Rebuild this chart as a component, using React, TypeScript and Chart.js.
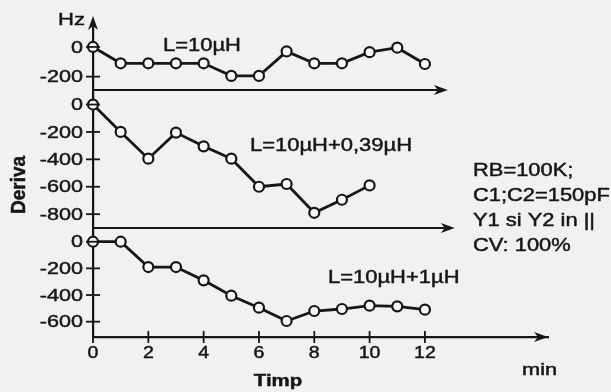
import React, { useEffect, useRef } from 'react';
import { Chart, registerables } from 'chart.js';

Chart.register(...registerables);

// ---- data ----
const MINUTES = [0, 1, 2, 3, 4, 5, 6, 7, 8, 9, 10, 11, 12];
const DRIFT_L10 = [0, -110, -110, -110, -110, -195, -195, -30, -110, -110, -35, -5, -115];
const DRIFT_L10_039 = [0, -200, -395, -205, -305, -395, -600, -580, -790, -695, -590];
const DRIFT_L10_1 = [0, 0, -190, -190, -290, -405, -495, -595, -520, -505, -480, -485, -510];

const X_TICKS = [0, 2, 4, 6, 8, 10, 12];
const Y_TICKS_A = [0, -200];
const Y_TICKS_B = [0, -200, -400, -600, -800];
const Y_TICKS_C = [0, -200, -400, -600];

const SERIES_LABELS = ['L=10µH', 'L=10µH+0,39µH', 'L=10µH+1µH'];
const NOTE_LINES = ['RB=100K;', 'C1;C2=150pF', 'Y1 si Y2 in ||', 'CV: 100%'];
const Y_UNIT = 'Hz';
const Y_TITLE = 'Deriva';
const X_TITLE = 'Timp';
const X_UNIT = 'min';

// ---- styling / layout ----
const INK = '#161616';
const BG = '#f1f1ef';
const FONT = '"Liberation Sans", Arial, sans-serif';
const X_MAX = 16.45;
const ARROW_END_A = 12.83;
const ARROW_END_B = 13.08;

function txt(ctx: CanvasRenderingContext2D, s: string, x: number, y: number, o: any) {
  ctx.save();
  ctx.font = `${o.bold ? 'bold ' : ''}${o.size}px ${FONT}`;
  ctx.fillStyle = INK;
  ctx.strokeStyle = INK;
  ctx.lineWidth = 0.45;
  ctx.textAlign = o.align || 'left';
  ctx.textBaseline = o.baseline || 'alphabetic';
  ctx.translate(x, y);
  if (o.rot) ctx.rotate(o.rot);
  ctx.scale(o.sx ?? 1.22, o.sy ?? 1);
  ctx.fillText(s, 0, 0);
  ctx.strokeText(s, 0, 0);
  ctx.restore();
}

function arrowHead(ctx: CanvasRenderingContext2D, x: number, y: number, dir: 'right' | 'up') {
  ctx.save();
  ctx.fillStyle = INK;
  ctx.beginPath();
  if (dir === 'right') {
    ctx.moveTo(x, y);
    ctx.lineTo(x - 14, y - 5);
    ctx.lineTo(x - 10, y);
    ctx.lineTo(x - 14, y + 5);
  } else {
    ctx.moveTo(x, y);
    ctx.lineTo(x - 5, y + 14);
    ctx.lineTo(x, y + 10);
    ctx.lineTo(x + 5, y + 14);
  }
  ctx.closePath();
  ctx.fill();
  ctx.restore();
}

const decorPlugin = {
  id: 'decor',
  beforeDraw(chart: any) {
    const { ctx, width, height } = chart;
    ctx.save();
    ctx.fillStyle = BG;
    ctx.fillRect(0, 0, width, height);
    ctx.restore();
  },
  afterDraw(chart: any) {
    const { ctx, chartArea } = chart;
    const xs = chart.scales.x;
    const left = chartArea.left;
    ctx.save();
    ctx.strokeStyle = INK;
    ctx.lineCap = 'butt';

    // y tick marks + labels
    for (const id of ['yA', 'yB', 'yC']) {
      const s = chart.scales[id];
      for (const t of s.ticks) {
        const y = s.getPixelForValue(t.value);
        ctx.lineWidth = 1.8;
        ctx.beginPath();
        ctx.moveTo(left - 7, y);
        ctx.lineTo(left + 7, y);
        ctx.stroke();
        txt(ctx, String(t.value), left - 10, y + 1, { size: 17, align: 'right', baseline: 'middle', sx: 1.27 });
      }
    }
    // x tick marks + labels
    const xb = xs.top;
    for (const t of xs.ticks) {
      if (t.value > 12) continue;
      const x = xs.getPixelForValue(t.value);
      ctx.lineWidth = 1.8;
      ctx.beginPath();
      ctx.moveTo(x, xb - 6);
      ctx.lineTo(x, xb + 6);
      ctx.stroke();
      txt(ctx, String(t.value), x, xb + 21, { size: 17, align: 'center', sx: 1.15 });
    }

    // panel baselines with arrows
    ctx.lineWidth = 2;
    const yA = chart.scales.yA.bottom;
    const xA = xs.getPixelForValue(ARROW_END_A);
    ctx.beginPath();
    ctx.moveTo(left, yA);
    ctx.lineTo(xA - 10, yA);
    ctx.stroke();
    arrowHead(ctx, xA, yA, 'right');

    const yB = chart.scales.yB.bottom;
    const xB = xs.getPixelForValue(ARROW_END_B);
    ctx.beginPath();
    ctx.moveTo(left, yB);
    ctx.lineTo(xB - 10, yB);
    ctx.stroke();
    arrowHead(ctx, xB, yB, 'right');

    // main x axis arrow
    arrowHead(ctx, chartArea.right, xb, 'right');
    // y axis arrow
    ctx.beginPath();
    ctx.moveTo(left, chartArea.top);
    ctx.lineTo(left, chartArea.top - 3);
    ctx.stroke();
    arrowHead(ctx, left, chartArea.top - 6, 'up');

    // texts
    txt(ctx, Y_UNIT, 58, 25, { size: 17, sx: 1.3 });
    txt(ctx, SERIES_LABELS[0], 163, 51, { size: 18 });
    txt(ctx, SERIES_LABELS[1], 250, 151, { size: 18 });
    txt(ctx, SERIES_LABELS[2], 328, 283, { size: 18 });
    NOTE_LINES.forEach((l, i) => txt(ctx, l, 473, 176 + i * 25, { size: 17.5, sx: 1.25 }));
    txt(ctx, Y_TITLE, 19, 185, { size: 19, bold: true, rot: -Math.PI / 2, align: 'center', baseline: 'middle', sx: 1, sy: 1.1 });
    txt(ctx, X_TITLE, 278, 386, { size: 17, bold: true, align: 'center', sx: 1.2 });
    txt(ctx, X_UNIT, 522, 375, { size: 17, sx: 1.28 });
    ctx.restore();
  },
};

function series(values: number[], axis: string) {
  return {
    data: values.map((v, i) => ({ x: MINUTES[i], y: v })),
    yAxisID: axis,
    borderColor: INK,
    borderWidth: 2.8,
    pointRadius: 5,
    pointBorderWidth: 2.2,
    pointBackgroundColor: '#f8f8f6',
    pointBorderColor: INK,
    tension: 0,
    clip: false as any,
  };
}

function yAxis(min: number, max: number, ticks: number[], weight: number, order: number) {
  return {
    type: 'linear' as const,
    position: 'left' as const,
    stack: 'panels',
    stackWeight: weight,
    weight: order,
    min,
    max,
    offset: false,
    grid: { display: false },
    border: { display: true, color: INK, width: 2.2 },
    ticks: { display: false },
    afterBuildTicks: (s: any) => {
      s.ticks = ticks.map((v) => ({ value: v }));
    },
    afterFit: (s: any) => {
      s.width = 93;
    },
  };
}

export default function App() {
  const ref = useRef<HTMLCanvasElement>(null);
  useEffect(() => {
    if (!ref.current) return;
    const chart = new Chart(ref.current, {
      type: 'line',
      data: {
        datasets: [
          series(DRIFT_L10, 'yA'),
          series(DRIFT_L10_039, 'yB'),
          series(DRIFT_L10_1, 'yC'),
        ] as any,
      },
      options: {
        animation: false,
        responsive: false,
        maintainAspectRatio: false,
        layout: { padding: { top: 22, right: 63, left: 0, bottom: 0 } },
        plugins: { legend: { display: false }, tooltip: { enabled: false } },
        scales: {
          x: {
            type: 'linear',
            min: 0,
            max: X_MAX,
            grid: { display: false },
            border: { display: true, color: INK, width: 2.2 },
            ticks: { display: false },
            afterBuildTicks: (s: any) => {
              s.ticks = X_TICKS.map((v) => ({ value: v }));
            },
            afterFit: (s: any) => {
              s.height = 55;
            },
          },
          yA: yAxis(-290, 168, Y_TICKS_A, 68, 3),
          yB: yAxis(-901, 106, Y_TICKS_B, 138, 2),
          yC: yAxis(-715, 103, Y_TICKS_C, 109, 1),
        } as any,
      },
      plugins: [decorPlugin],
    });
    return () => chart.destroy();
  }, []);
  return (
    <div style={{ position: 'fixed', left: 0, top: 0, width: 611, height: 392, background: BG }}>
      <canvas ref={ref} width={611} height={392} style={{ display: 'block' }} />
    </div>
  );
}
